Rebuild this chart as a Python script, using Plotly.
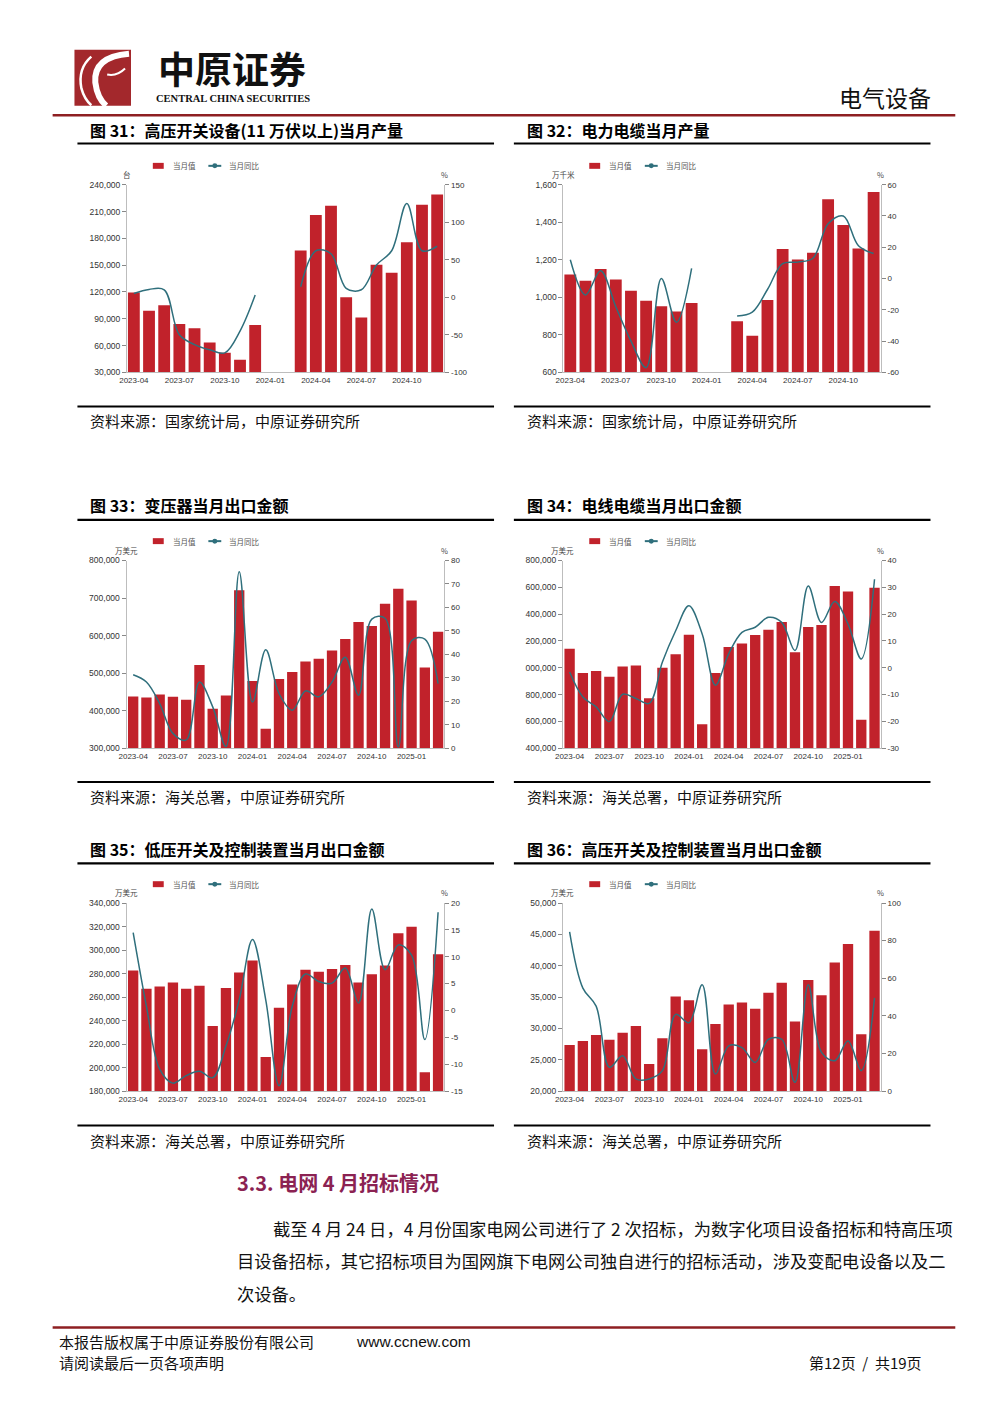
import plotly.graph_objects as go

# ---------------- data ----------------
months_a = ["2023-04", "2023-05", "2023-06", "2023-07", "2023-08", "2023-09", "2023-10",
            "2023-11", "2023-12", "2024-01", "2024-02", "2024-03", "2024-04", "2024-05",
            "2024-06", "2024-07", "2024-08", "2024-09", "2024-10", "2024-11", "2024-12"]
months_b = months_a + ["2025-01", "2025-02", "2025-03"]
ticks_a = ["2023-04", "2023-07", "2023-10", "2024-01", "2024-04", "2024-07", "2024-10"]
ticks_b = ticks_a + ["2025-01"]

# 图31 高压开关设备(11万伏以上)当月产量 (台, %)
hv_switch_output = [119500, 99000, 105000, 84000, 79500, 63500, 52000, 44000, 83000, None, None,
                    166500, 206000, 216500, 114000, 91500, 150500, 141500, 175500, 217500, 229000]
hv_switch_yoy = [5, 10.5, 10, -50, -63, -70, -74, -45, 3, None, None,
                 14, 62, 58, 12, 10, 43, 62, 125, 62, 68]

# 图32 电力电缆当月产量 (万千米, %)
cable_output = [1121, 1088, 1151, 1095, 1035, 982, 952, 924, 970, None, None,
                873, 795, 986, 1257, 1202, 1237, 1523, 1385, 1260, 1561]
cable_yoy = [12, -10.5, 5, -18, -40, -57, 0, -28, 6.5, None, None,
             -24, -21.5, -7, 9.5, 10.5, 13, 35, 40, 21, 16]

# 图33 变压器当月出口金额 (万美元, %)
transformer_export = [437600, 435000, 442800, 436700, 428700, 521300, 405000, 440200, 720600, 479000,
                      352000, 484300, 502800, 531000, 538100, 560000, 591000, 636000, 625400, 684500,
                      725000, 693300, 515200, 610400]
transformer_yoy = [31.3, 28.2, 19, 6.3, 3.5, 28.2, 17.6, 0.7, 75.2, 19.7,
                   41.9, 23.3, 16.2, 24.4, 21.9, 28.2, 38.8, 22.6, 55, 55.4,
                   0.5, 45.8, 46.5, 27.5]

# 图34 电线电缆当月出口金额 (万美元, %)
wire_export = [1140700, 960500, 975300, 933400, 1009900, 1017300, 772800, 1000000, 1101200, 1246900,
               577700, 960500, 1155500, 1180200, 1244400, 1284000, 1340700, 1116000, 1303700, 1318500,
               1609900, 1567900, 612300, 1597500]
wire_yoy = [-1.6, -10.9, -14.6, -20.1, -9.9, -11.5, -13.3, 2.1, 13.8, 23.1,
            12.6, -6.5, 5.2, 13.2, 15.1, 18.8, 16.9, 6.4, 30.5, 16.9,
            24.7, 16.3, 3.3, 33]
wire_left_ticklabels = ["400,000", "600,000", "800,000", "000,000", "200,000", "400,000",
                        "600,000", "800,000"]

# 图35 低压开关及控制装置当月出口金额 (万美元, %)
lv_export = [282600, 267200, 269100, 272500, 267200, 269700, 235400, 267700, 281000, 291100,
             209000, 250900, 270800, 283200, 281500, 284000, 287400, 272500, 279500, 286900,
             314400, 319800, 196000, 296400]
lv_yoy = [14.5, 0.8, -10.9, -13.5, -12.1, -11.3, -12.5, -6.6, 2, 13.2,
          2, -14, 0.8, 6.8, 5.4, 5.1, 7.9, 1.4, 18.9, 7.6,
          12.2, 10.3, -5.4, 18.3]

# 图36 高压开关及控制装置当月出口金额 (万美元, %)
hv_export = [27380, 28010, 28960, 28220, 29330, 30390, 24320, 28440, 35080, 34500,
             26700, 30700, 33810, 34130, 33130, 35710, 37290, 31120, 37720, 35290,
             40510, 43460, 29070, 45570]
hv_yoy = [84.7, 54.8, 45.2, 12.7, 18.8, 6.5, 6.5, 10.9, 40.8, 36.4,
          56.6, 9.1, 24.1, 23.2, 15.3, 27.6, 27.6, 4.7, 56.6, 20.6,
          16.2, 26.7, 10.9, 49.6]

# ---------------- styling ----------------
# the figure is drawn slightly smaller than the 1000x1414 window so the page never overflows;
# all positions below are page pixels from the top-left corner
W, H = 990, 1400
RED = "#C1222B"
TEAL = "#2F6F7C"
AXIS = "#BDBDBD"
TICKC = "#333333"
CJK = "Noto Sans CJK SC"
NUMF = "Liberation Sans"


def X(p):
    return p / W


def Y(p):
    return 1 - p / H


charts = [
    dict(title="图 31：高压开关设备(11 万伏以上)当月产量", src="资料来源：国家统计局，中原证券研究所",
         x=months_a, ticks=ticks_a, bar=hv_switch_output, line=hv_switch_yoy, unit="台",
         lrange=[30000, 240000], ldtick=30000, lticktext=None, rrange=[-100, 150], rdtick=50),
    dict(title="图 32：电力电缆当月产量", src="资料来源：国家统计局，中原证券研究所",
         x=months_a, ticks=ticks_a, bar=cable_output, line=cable_yoy, unit="万千米",
         lrange=[600, 1600], ldtick=200, lticktext=None, rrange=[-60, 60], rdtick=20),
    dict(title="图 33：变压器当月出口金额", src="资料来源：海关总署，中原证券研究所",
         x=months_b, ticks=ticks_b, bar=transformer_export, line=transformer_yoy, unit="万美元",
         lrange=[300000, 800000], ldtick=100000, lticktext=None, rrange=[0, 80], rdtick=10),
    dict(title="图 34：电线电缆当月出口金额", src="资料来源：海关总署，中原证券研究所",
         x=months_b, ticks=ticks_b, bar=wire_export, line=wire_yoy, unit="万美元",
         lrange=[400000, 1800000], ldtick=200000, lticktext=wire_left_ticklabels, rrange=[-30, 40], rdtick=10),
    dict(title="图 35：低压开关及控制装置当月出口金额", src="资料来源：海关总署，中原证券研究所",
         x=months_b, ticks=ticks_b, bar=lv_export, line=lv_yoy, unit="万美元",
         lrange=[180000, 340000], ldtick=20000, lticktext=None, rrange=[-15, 20], rdtick=5),
    dict(title="图 36：高压开关及控制装置当月出口金额", src="资料来源：海关总署，中原证券研究所",
         x=months_b, ticks=ticks_b, bar=hv_export, line=hv_yoy, unit="万美元",
         lrange=[20000, 50000], ldtick=5000, lticktext=None, rrange=[0, 100], rdtick=20),
]

boxes = [
    dict(bx=70, ty=126, tl=139.5, px0=120, px1=440, pt=181, pb=370, ly=162, uy=170.5, bl=404.5, sy=418.5),
    dict(bx=510, ty=126, tl=139.5, px0=560, px1=880, pt=181, pb=370, ly=162, uy=170.5, bl=404.5, sy=418.5),
    dict(bx=70, ty=504, tl=518.5, px0=119.5, px1=440, pt=559.5, pb=748.5, ly=540, uy=549, bl=782.5, sy=797.5),
    dict(bx=510, ty=504, tl=518.5, px0=559.5, px1=880, pt=559.5, pb=748.5, ly=540, uy=549, bl=782.5, sy=797.5),
    dict(bx=70, ty=850, tl=864.5, px0=119.5, px1=440, pt=904.5, pb=1094, ly=885.5, uy=894, bl=1128.5, sy=1143.5),
    dict(bx=510, ty=850, tl=864.5, px0=559.5, px1=880, pt=904.5, pb=1094, ly=885.5, uy=894, bl=1128.5, sy=1143.5),
]

fig = go.Figure()
layout = {}
shapes = []
annotations = []


def text(x, y, s, size, color="#000", family=CJK, anchor="left", vanchor="middle"):
    annotations.append(dict(x=X(x), y=Y(y), xref="paper", yref="paper", text=s, showarrow=False,
                            xanchor=anchor, yanchor=vanchor, borderpad=0,
                            font=dict(size=size, color=color, family=family)))


def hline(x0, x1, y, color, width):
    shapes.append(dict(type="line", xref="paper", yref="paper", x0=X(x0), x1=X(x1), y0=Y(y), y1=Y(y),
                       line=dict(color=color, width=width)))


for i, (c, b) in enumerate(zip(charts, boxes), start=1):
    xs = "" if i == 1 else str(i)
    yl = "" if i == 1 else str(2 * i - 1)
    yr = str(2 * i)
    n = len(c["x"])
    fig.add_trace(go.Bar(x=c["x"], y=c["bar"], xaxis="x" + xs, yaxis="y" + yl, name="当月值",
                         marker=dict(color=RED, line=dict(width=0)), width=0.78, showlegend=False))
    fig.add_trace(go.Scatter(x=c["x"], y=c["line"], xaxis="x" + xs, yaxis="y" + yr, name="当月同比",
                             mode="lines", connectgaps=False, showlegend=False,
                             line=dict(color=TEAL, width=1.5, shape="spline", smoothing=1.0)))
    layout["xaxis" + xs] = dict(domain=[X(b["px0"]), X(b["px1"])], anchor="y" + yl, type="category",
                                categoryorder="array", categoryarray=c["x"],
                                range=[-0.45 if n == 21 else -0.5, n - 1 + 0.48],
                                tickmode="array", tickvals=c["ticks"], ticktext=c["ticks"],
                                showline=True, linecolor=AXIS, linewidth=1, ticks="", showgrid=False,
                                zeroline=False, tickfont=dict(size=8, color=TICKC, family=NUMF), fixedrange=True)
    lv = list(range(c["lrange"][0], c["lrange"][1] + 1, c["ldtick"]))
    lt = c["lticktext"] if c["lticktext"] else [f"{v:,}" for v in lv]
    layout["yaxis" + yl] = dict(domain=[Y(b["pb"]), Y(b["pt"])], anchor="x" + xs, range=c["lrange"],
                                tickmode="array", tickvals=lv, ticktext=lt, showline=True, linecolor=AXIS,
                                linewidth=1, ticks="outside", ticklen=4, tickcolor="#888", showgrid=False,
                                zeroline=False, tickfont=dict(size=8.5, color=TICKC, family=NUMF), fixedrange=True)
    rv = list(range(c["rrange"][0], c["rrange"][1] + 1, c["rdtick"]))
    layout["yaxis" + yr] = dict(overlaying="y" + yl, side="right", anchor="x" + xs, range=c["rrange"],
                                tickmode="array", tickvals=rv, ticktext=[str(v) for v in rv], showline=True,
                                linecolor=AXIS, linewidth=1, ticks="outside", ticklen=4, tickcolor="#888",
                                showgrid=False, zeroline=False,
                                tickfont=dict(size=8, color=TICKC, family=NUMF), fixedrange=True)

    bx = b["bx"]
    text(bx + 12, b["ty"], "<b>" + c["title"] + "</b>", 16)
    hline(bx, bx + 420, b["tl"], "#000", 2.2)
    hline(bx, bx + 420, b["bl"], "#000", 2.0)
    text(bx + 12, b["sy"], c["src"], 15, color="#111")
    text(b["px0"], b["uy"], c["unit"], 7.5, color="#444", anchor="center")
    text(b["px1"], b["uy"], "%", 7.5, color="#444", anchor="center")
    ly = b["ly"]
    shapes.append(dict(type="rect", xref="paper", yref="paper", x0=X(bx + 76), x1=X(bx + 87),
                       y0=Y(ly + 3), y1=Y(ly - 3), fillcolor=RED, line=dict(width=0)))
    text(bx + 95, ly, "当月值", 7.5, color="#555")
    hline(bx + 132, bx + 145, ly, TEAL, 2)
    shapes.append(dict(type="circle", xref="paper", yref="paper", x0=X(bx + 136), x1=X(bx + 141),
                       y0=Y(ly + 2.5), y1=Y(ly - 2.5), fillcolor=TEAL, line=dict(width=0)))
    text(bx + 152, ly, "当月同比", 7.5, color="#555")

# ---------------- header ----------------
LOGO = "#A3282C"
shapes.append(dict(type="rect", xref="paper", yref="paper", x0=X(67), x1=X(124), y0=Y(101.5), y1=Y(45),
                   fillcolor=LOGO, line=dict(width=0)))


def P(x, y):
    return f"{X(x):.5f},{Y(y):.5f}"


shapes.append(dict(type="path", xref="paper", yref="paper",
                   path=f"M {P(122, 49)} Q {P(86, 52)} {P(88, 78)} Q {P(90, 94)} {P(99, 101.5)}",
                   line=dict(color="white", width=6)))
shapes.append(dict(type="path", xref="paper", yref="paper",
                   path=f"M {P(84, 52)} Q {P(70, 64)} {P(74, 84)} Q {P(77, 95)} {P(84, 101)}",
                   line=dict(color="white", width=2.5)))
shapes.append(dict(type="path", xref="paper", yref="paper",
                   path=f"M {P(100, 70)} Q {P(110, 72)} {P(118, 64)}",
                   line=dict(color="white", width=2)))
text(226, 63, "<b>中原证券</b>", 37, color="#111", anchor="center")
text(227, 94.5, "<b>CENTRAL CHINA SECURITIES</b>", 10.5, color="#111", family="Liberation Serif", anchor="center")
text(932, 93, "电气设备", 23, color="#111", anchor="right")
hline(45, 955, 111, "#8E1F22", 2.5)

# ---------------- body text ----------------
text(230, 1186, "<b>3.3. 电网 4 月招标情况</b>", 20, color="#8B2252")
text(266, 1232, "截至 4 月 24 日，4 月份国家电网公司进行了 2 次招标，为数字化项目设备招标和特高压项", 17.3, color="#111")
text(230, 1265, "目设备招标，其它招标项目为国网旗下电网公司独自进行的招标活动，涉及变配电设备以及二", 17.3, color="#111")
text(230, 1298, "次设备。", 17.3, color="#111")

# ---------------- footer ----------------
hline(45, 955, 1332, "#8E1F22", 2.5)
text(50, 1346, "本报告版权属于中原证券股份有限公司", 15, color="#111")
text(350, 1346, "www.ccnew.com", 15.5, color="#111", family=NUMF)
text(50, 1367, "请阅读最后一页各项声明", 15, color="#111")
text(922, 1367, "第12页  /  共19页", 15, color="#111", anchor="right")

fig.update_layout(**layout)
fig.update_layout(width=W, height=H, autosize=False, margin=dict(l=0, r=0, t=0, b=0),
                  paper_bgcolor="white", plot_bgcolor="white", showlegend=False,
                  bargap=0.22, shapes=shapes, annotations=annotations,
                  font=dict(family=CJK, size=10, color="#111"))

fig.write_html("out.html", config=dict(displayModeBar=False),
               post_script=("document.documentElement.style.overflow='hidden';"
                            "document.body.style.overflow='hidden';"
                            "document.body.style.margin='0';document.body.style.padding='0';"))
